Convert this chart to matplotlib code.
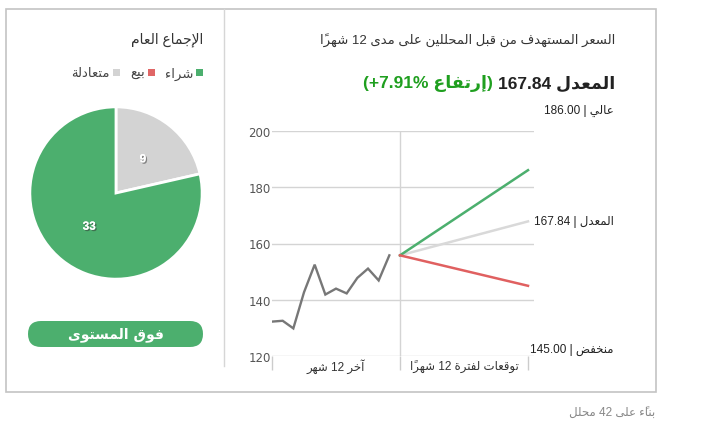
import re
import numpy as np
import matplotlib
matplotlib.use('Agg')
import matplotlib.pyplot as plt
import matplotlib.patheffects as pe
from matplotlib.patches import Rectangle, FancyBboxPatch
from matplotlib.transforms import blended_transform_factory

# ---- data ----
history = [132.3, 132.6, 129.9, 142.7, 152.5, 141.9, 144.0, 142.3, 147.8, 151.1, 146.9, 155.8]
current_price = 155.8
target_high = 186.00
target_mean = 167.84
target_low = 145.00
change_pct = 7.91
votes = [33, 0, 9]                     # buy, sell, hold
vote_names = ['شراء', 'بيع', 'متعادلة']
vote_colors = ['#4caf6e', '#e06666', '#d3d3d3']
y_ticks = [120, 140, 160, 180, 200]
period_labels = ['آخر 12 شهر', 'توقعات لفترة 12 شهراً']
n_analysts = 42

# ---- tiny arabic shaper (matplotlib has no complex text layout) ----
DUAL = dict(zip('ئبتثجحخسشصضطظعغفقكلمنهي',
                [0xFE89, 0xFE8F, 0xFE95, 0xFE99, 0xFE9D, 0xFEA1, 0xFEA5, 0xFEB1, 0xFEB5, 0xFEB9,
                 0xFEBD, 0xFEC1, 0xFEC5, 0xFEC9, 0xFECD, 0xFED1, 0xFED5, 0xFED9, 0xFEDD, 0xFEE1,
                 0xFEE5, 0xFEE9, 0xFEF1]))
RIGHT = dict(zip('آأؤإاةدذرزوى',
                 [0xFE81, 0xFE83, 0xFE85, 0xFE87, 0xFE8D, 0xFE93, 0xFEA9, 0xFEAB, 0xFEAD, 0xFEAF,
                  0xFEED, 0xFEEF]))
LAMALEF = {'آ': 0xFEF5, 'أ': 0xFEF7, 'إ': 0xFEF9, 'ا': 0xFEFB}
MARKS = set(chr(c) for c in range(0x064B, 0x0653))
MIRROR = {'(': ')', ')': '('}


def shape(word):
    cl = []
    for ch in word:
        if ch in MARKS and cl:
            cl[-1][2] += ch
        elif cl and cl[-1][0] == 'ل' and ch in LAMALEF:
            cl[-1] = ['LA', LAMALEF[ch], cl[-1][2]]
        elif ch in DUAL:
            cl.append([ch, DUAL[ch], ''])
        elif ch in RIGHT:
            cl.append([ch, RIGHT[ch], ''])
        else:
            cl.append([ch, None, ''])
    out = []
    for i, (ch, base, marks) in enumerate(cl):
        if base is None:
            out.append(ch + marks)
            continue
        prev_ok = i > 0 and cl[i - 1][0] in DUAL
        next_ok = ch in DUAL and i + 1 < len(cl) and cl[i + 1][1] is not None
        off = 3 if (prev_ok and next_ok) else 1 if prev_ok else 2 if next_ok else 0
        out.append(chr(base + off) + marks)
    return out


def ar(text):
    units = []
    for tok in re.findall(r'[0-9A-Za-z.%+]+|[\u0600-\u06FF]+|.', text):
        if re.match(r'[\u0600-\u06FF]', tok):
            units.extend(shape(tok))
        elif len(tok) == 1 and not tok.isalnum():
            units.append(MIRROR.get(tok, tok))
        else:
            units.append(tok)
    return ''.join(reversed(units))


plt.rcParams['font.family'] = ['Liberation Sans', 'DejaVu Sans']
W, H = 708, 435
fig = plt.figure(figsize=(W / 100, H / 100), dpi=100)

# pixel canvas for frame, texts, legend and button
bg = fig.add_axes([0, 0, 1, 1])
bg.set_xlim(0, W)
bg.set_ylim(H, 0)
bg.axis('off')
bg.add_patch(Rectangle((5.5, 9.5), 650.5, 383, fill=False, ec='#c4c4c4', lw=1.2))
bg.plot([223.5, 223.5], [10, 367], color='#d6d6d6', lw=1)

dark = '#333333'
bg.text(203, 40, ar('الإجماع العام'), ha='right', va='center', fontsize=10, color=dark)

# legend (right to left)
lx = 203
for name, col in zip(vote_names, vote_colors):
    bg.add_patch(Rectangle((lx - 7, 70), 7, 7, color=col, lw=0))
    t = bg.text(lx - 10, 74, ar(name), ha='right', va='center', fontsize=9.5, color='#444444')
    fig.canvas.draw()
    bb = t.get_window_extent()
    lx = bb.x0 - 10

# pie
pie_ax = fig.add_axes([29 / W, 1 - 281 / H, 174 / W, 174 / H])
pie_ax.set_facecolor('none')
vals = [votes[2], votes[1], votes[0]]
cols = [vote_colors[2], vote_colors[1], vote_colors[0]]
keep = [(v, c) for v, c in zip(vals, cols) if v > 0]
wedges, _ = pie_ax.pie([v for v, _ in keep], colors=[c for _, c in keep], startangle=90,
                       counterclock=False, wedgeprops=dict(edgecolor='white', linewidth=2))
pie_ax.set_xlim(-1.01, 1.01)
pie_ax.set_ylim(-1.01, 1.01)
shadow = [pe.withSimplePatchShadow(offset=(1, -1), shadow_rgbFace='#333333', alpha=0.5), pe.Normal()]
for w, (v, _) in zip(wedges, keep):
    ang = np.deg2rad((w.theta1 + w.theta2) / 2)
    pie_ax.text(0.5 * np.cos(ang), 0.5 * np.sin(ang), str(v), ha='center', va='center',
                fontsize=8.5, fontweight='bold', color='white', path_effects=shadow)

# button
bg.add_patch(FancyBboxPatch((28, 322), 175, 26, boxstyle='round,pad=0,rounding_size=13',
                            fc='#4caf6e', ec='none'))
bg.text(115.5, 335, ar('فوق المستوى'), ha='center', va='center', fontsize=10,
        fontweight='bold', color='white', family=['DejaVu Sans'])

# right panel texts
bg.text(615, 40, ar('السعر المستهدف من قبل المحللين على مدى 12 شهراً'), ha='right',
        va='center', fontsize=9.5, color=dark)
hd = bg.text(615, 84, ar('المعدل %.2f' % target_mean), ha='right', va='center',
             fontsize=12.5, fontweight='bold', color='#222222')
fig.canvas.draw()
hx = hd.get_window_extent().x0
bg.text(hx - 5, 84, ar('(إرتفاع +%.2f%%)' % change_pct), ha='right', va='center',
        fontsize=12.5, fontweight='bold', color='#1f9f1f')

lab_kw = dict(ha='right', va='center', fontsize=8.5, color='#222222')
bg.text(614, 111, ar('عالي | %.2f' % target_high), **lab_kw)

# line chart
x_per = 10.667
ax_left, ax_top, ax_bot = 272, 131.7, 357.3
xmax = 24.6
ax = fig.add_axes([ax_left / W, 1 - ax_bot / H, xmax * x_per / W, (ax_bot - ax_top) / H])
ax.set_facecolor('none')
ax.set_xlim(0, xmax)
ax.set_ylim(120, 200)
for s in ax.spines.values():
    s.set_visible(False)
ax.set_yticks(y_ticks)
ax.set_yticklabels([str(v) for v in y_ticks], family='DejaVu Sans', fontsize=8.5, color='#555555')
ax.tick_params(axis='y', length=0, pad=1)
ax.grid(axis='y', color='#d4d4d4', lw=1)
ax.set_xticks([0, 12, 24])
ax.set_xticklabels([])
ax.tick_params(axis='x', length=10, color='#cccccc', width=1)
ax.axvline(12, color='#d4d4d4', lw=1)
ax.set_axisbelow(True)

months = list(range(len(history)))
ax.plot(months, history, color='#777777', lw=1.7, solid_joinstyle='miter')
fx = [12, 24]
ax.plot(fx, [current_price, target_mean], color='#d9d9d9', lw=1.8)
ax.plot(fx, [current_price, target_high], color='#4caf6e', lw=1.8)
ax.plot(fx, [current_price, target_low], color='#e06060', lw=1.8)

tr = blended_transform_factory(ax.transData, bg.transData)
ax.text(6, 367, ar(period_labels[0]), transform=tr, ha='center', va='center',
        fontsize=8.5, color='#333333')
ax.text(18, 367, ar(period_labels[1]), transform=tr, ha='center', va='center',
        fontsize=8.5, color='#333333')

tr2 = blended_transform_factory(bg.transData, ax.transData)
ax.text(614, target_mean, ar('المعدل | %.2f' % target_mean), transform=tr2, **lab_kw)
bg.text(614, 350, ar('منخفض | %.2f' % target_low), **lab_kw)

bg.text(655, 414, ar('بناءً على %d محلل' % n_analysts), ha='right', va='center',
        fontsize=8.5, color='#888888')

fig.savefig('out.png', dpi=100)
